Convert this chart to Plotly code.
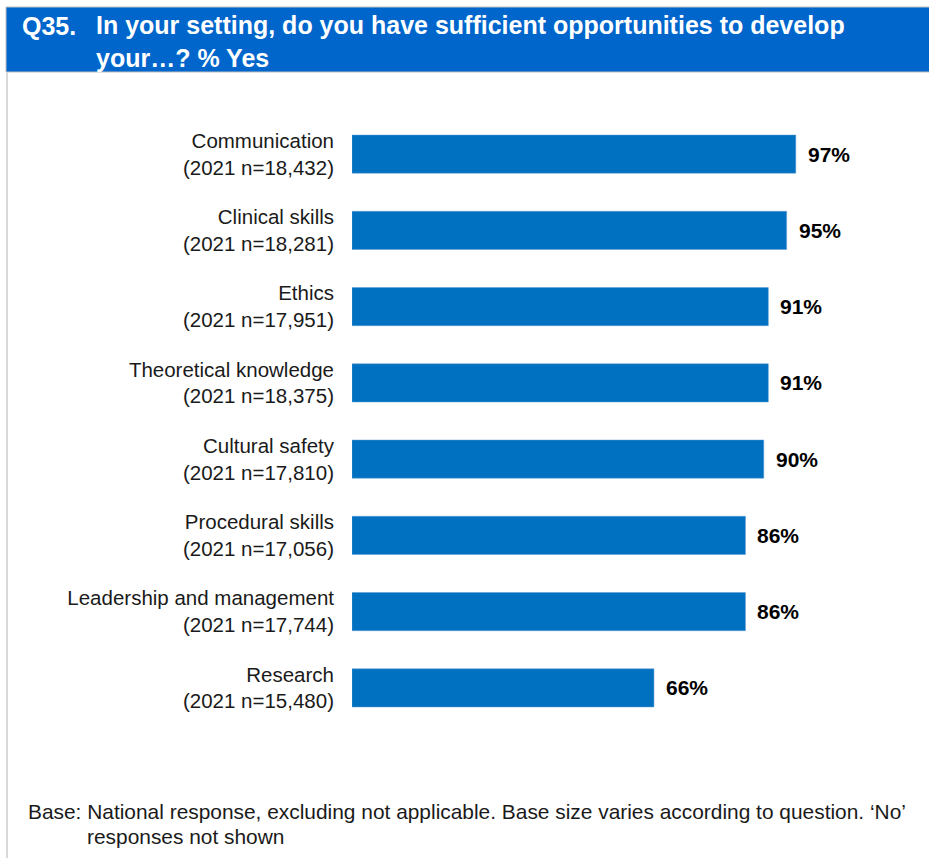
import plotly.graph_objects as go

# data
skills = ['Communication', 'Clinical skills', 'Ethics', 'Theoretical knowledge',
          'Cultural safety', 'Procedural skills', 'Leadership and management', 'Research']
base_n = ['18,432', '18,281', '17,951', '18,375', '17,810', '17,056', '17,744', '15,480']
pct_yes = [97, 95, 91, 91, 90, 86, 86, 66]

labels = [s + '<br>(2021 n=' + n + ')' for s, n in zip(skills, base_n)]

FONT = 'Liberation Sans, Arial, sans-serif'
BLUE = '#0070C0'
TXT = '#1a1a1a'

# plot area in pixels (used to place the frame/title pieces in paper coords)
W, H = 929, 858
L, R, T, B = 352, 28, 116, 132
pw = W - L - R
ph = H - T - B

def px(x):
    return (x - L) / pw

def py(y):
    return (H - B - y) / ph

fig = go.Figure(go.Bar(
    x=pct_yes,
    y=labels,
    orientation='h',
    marker=dict(color=BLUE, line=dict(color='#5B9BD5', width=0.5)),
    hoverinfo='skip'
))

# value labels
for lab, v in zip(labels, pct_yes):
    fig.add_annotation(x=v, y=lab, text='<b>' + str(v) + '%</b>', showarrow=False,
                       xanchor='left', xshift=10,
                       font=dict(family=FONT, size=21, color='#000000'))

# title bar
fig.add_shape(type='rect', xref='paper', yref='paper',
              x0=px(6), x1=px(940), y0=py(72), y1=py(7),
              fillcolor='#0066CC', line=dict(color='#BFBFBF', width=1), layer='below')
# left frame line
fig.add_shape(type='line', xref='paper', yref='paper',
              x0=px(7), x1=px(7), y0=py(72), y1=py(870),
              line=dict(color='#D9D9D9', width=2))

fig.add_annotation(xref='paper', yref='paper', x=px(20), y=py(26), text='<b>Q35.</b>',
                   showarrow=False, xanchor='left', yanchor='middle',
                   font=dict(family=FONT, size=25, color='white'))
fig.add_annotation(xref='paper', yref='paper', x=px(94), y=py(42),
                   text='<b>In your setting, do you have sufficient opportunities to develop<br>your…? % Yes</b>',
                   showarrow=False, xanchor='left', yanchor='middle', align='left',
                   font=dict(family=FONT, size=25, color='white'))

# footnote
fig.add_annotation(xref='paper', yref='paper', x=px(26), y=py(811),
                   text='Base: National response, excluding not applicable. Base size varies according to question. ‘No’',
                   showarrow=False, xanchor='left', yanchor='middle',
                   font=dict(family=FONT, size=20.9, color=TXT))
fig.add_annotation(xref='paper', yref='paper', x=px(85), y=py(836),
                   text='responses not shown',
                   showarrow=False, xanchor='left', yanchor='middle',
                   font=dict(family=FONT, size=20.9, color=TXT))

fig.update_layout(
    width=W, height=H,
    margin=dict(l=L, r=R, t=T, b=B),
    paper_bgcolor='white',
    plot_bgcolor='white',
    bargap=0.5,
    showlegend=False,
    font=dict(family=FONT, size=20, color=TXT)
)
fig.update_xaxes(range=[0, 120], visible=False, fixedrange=True)
fig.update_yaxes(autorange='reversed', showgrid=False, showline=False, ticks='',
                 ticklabelstandoff=17, fixedrange=True,
                 tickfont=dict(family=FONT, size=20.5, color=TXT))

fig.write_html("out.html", config={'displayModeBar': False},
               post_script="document.body.style.margin='0';")
